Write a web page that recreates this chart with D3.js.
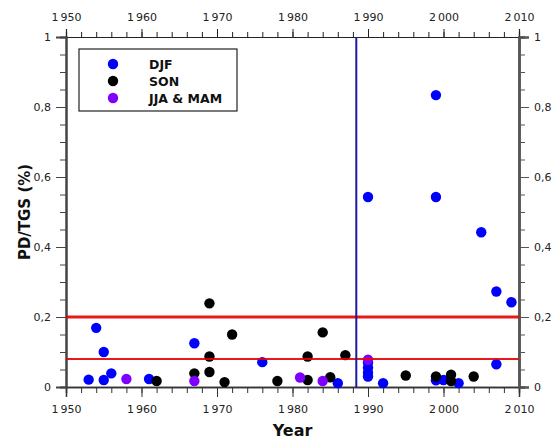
<!DOCTYPE html>
<html>
<head>
<meta charset="utf-8">
<script src="https://cdn.jsdelivr.net/npm/d3@7"></script>
<style>
  body { margin: 0; background: #fff; }
  svg text { font-family: "DejaVu Sans", Verdana, sans-serif; }
</style>
</head>
<body>
<svg id="svg1" width="553" height="441"></svg>
<script>
// data: [year, PD/TGS]
var djf = [
  [1953, 0.021], [1954, 0.169], [1955, 0.100], [1955, 0.020], [1956, 0.039],
  [1961, 0.023], [1967, 0.125], [1976, 0.071], [1986, 0.011],
  [1990, 0.543], [1990, 0.070], [1990, 0.055], [1990, 0.041], [1990, 0.030],
  [1992, 0.011], [1999, 0.834], [1999, 0.543], [1999, 0.019], [2000, 0.020],
  [2002, 0.011], [2005, 0.442], [2007, 0.273], [2007, 0.065], [2009, 0.242]
];
var son = [
  [1962, 0.017], [1967, 0.039], [1969, 0.239], [1969, 0.087], [1969, 0.043],
  [1971, 0.014], [1972, 0.150], [1978, 0.017], [1982, 0.087], [1982, 0.020],
  [1984, 0.156], [1985, 0.028], [1987, 0.091], [1995, 0.033], [1999, 0.030],
  [2001, 0.035], [2001, 0.017], [2004, 0.030]
];
var jjaMam = [
  [1958, 0.023], [1967, 0.017], [1981, 0.027], [1984, 0.017], [1990, 0.078]
];
var legendLabels = ["DJF", "SON", "JJA & MAM"];
var seriesColors = ["#0000ff", "#000000", "#7f00ff"];
var thresholds = [0.2, 0.08];
var breakYear = 1988.45;
var xTicks = [1950, 1960, 1970, 1980, 1990, 2000, 2010];
var yTicks = [0, 0.2, 0.4, 0.6, 0.8, 1];

var marginLeft = 66, marginTop = 37, plotW = 453, plotH = 350;

var svg = d3.select("#svg1")
  .append("g")
  .attr("transform", "translate(" + marginLeft + "," + marginTop + ")");

var scaleX = d3.scaleLinear().domain([1950, 2010]).range([0, plotW]);
var scaleY = d3.scaleLinear().domain([0, 1]).range([plotH, 0]);

var loc = d3.formatLocale({ decimal: ",", thousands: "\u2009", grouping: [3], currency: ["", ""] });
var fmtYear = loc.format(",d");
var fmtVal = function(d) { return d === 0 || d === 1 ? String(d) : loc.format(".1f")(d); };

var minorX = d3.range(1950, 2011, 2);
var minorY = d3.range(0, 1.0001, 0.05);

function styleAxis(g, col, w) {
  g.select(".domain").attr("stroke", col).attr("stroke-width", w);
  g.selectAll(".tick line").attr("stroke", col);
  g.selectAll(".tick text").attr("fill", "#222").style("font-size", "11px");
}

// minor ticks
svg.append("g").call(d3.axisBottom(scaleX).tickValues(minorX).tickSize(6).tickFormat(""))
  .attr("transform", "translate(0," + plotH + ")").call(styleAxis, "#333", 1.5);
svg.append("g").call(d3.axisTop(scaleX).tickValues(minorX).tickSize(5).tickFormat(""))
  .call(styleAxis, "#222", 1.2);
svg.append("g").call(d3.axisLeft(scaleY).tickValues(minorY).tickSize(6).tickFormat(""))
  .call(styleAxis, "#444", 2);
svg.append("g").call(d3.axisRight(scaleY).tickValues(minorY).tickSize(6).tickFormat(""))
  .attr("transform", "translate(" + plotW + ",0)").call(styleAxis, "#555", 2.5);

// major ticks + labels
svg.append("g").attr("transform", "translate(0," + plotH + ")")
  .call(d3.axisBottom(scaleX).tickValues(xTicks).tickSize(10).tickPadding(8).tickFormat(fmtYear))
  .call(styleAxis, "#333", 1.5);
svg.append("g")
  .call(d3.axisTop(scaleX).tickValues(xTicks).tickSize(8).tickPadding(8).tickFormat(fmtYear))
  .call(styleAxis, "#222", 1.2);
svg.append("g")
  .call(d3.axisLeft(scaleY).tickValues(yTicks).tickSize(10).tickPadding(5).tickFormat(fmtVal))
  .call(styleAxis, "#444", 2);
svg.append("g").attr("transform", "translate(" + plotW + ",0)")
  .call(d3.axisRight(scaleY).tickValues(yTicks).tickSize(10).tickPadding(5).tickFormat(fmtVal))
  .call(styleAxis, "#555", 2.5);

// points
[djf, son, jjaMam].forEach(function(series, i) {
  svg.selectAll(".pt" + i)
    .data(series)
    .enter()
    .append("circle")
      .attr("class", "pt" + i)
      .attr("cx", function(d) { return scaleX(d[0]); })
      .attr("cy", function(d) { return scaleY(d[1]); })
      .attr("r", 5.2)
      .attr("fill", seriesColors[i]);
});

// reference lines
svg.selectAll(".thr")
  .data(thresholds)
  .enter()
  .append("line")
    .attr("class", "thr")
    .attr("x1", 0).attr("x2", plotW)
    .attr("y1", function(d) { return scaleY(d); })
    .attr("y2", function(d) { return scaleY(d); })
    .attr("stroke", "#e60000")
    .attr("stroke-opacity", 0.9)
    .attr("stroke-width", function(d, i) { return i === 0 ? 3 : 2; });

svg.append("line")
  .attr("x1", scaleX(breakYear)).attr("x2", scaleX(breakYear))
  .attr("y1", scaleY(1)).attr("y2", scaleY(0))
  .attr("stroke", "#1a1a9e")
  .attr("stroke-width", 2);

// legend
var legend = svg.append("g").attr("transform", "translate(13,12)");
legend.append("rect")
  .attr("width", 158).attr("height", 62)
  .attr("fill", "#fff").attr("stroke", "#222").attr("stroke-width", 1.2);
legendLabels.forEach(function(lab, i) {
  var row = legend.append("g").attr("transform", "translate(0," + (15 + i * 17) + ")");
  row.append("circle").attr("cx", 34).attr("cy", 0).attr("r", 5.2).attr("fill", seriesColors[i]);
  row.append("text").attr("x", 70).attr("y", 4.5)
    .style("font-size", "12.5px").style("font-weight", "bold").attr("fill", "#111")
    .text(lab);
});

// axis titles
svg.append("text")
  .attr("x", plotW / 2).attr("y", plotH + 49)
  .attr("text-anchor", "middle")
  .style("font-size", "16px").style("font-weight", "bold").attr("fill", "#111")
  .text("Year");
svg.append("text")
  .attr("transform", "translate(" + (-36) + "," + (plotH / 2) + ") rotate(-90)")
  .attr("text-anchor", "middle")
  .style("font-size", "15px").style("font-weight", "bold").attr("fill", "#111")
  .text("PD/TGS (%)");
</script>
</body>
</html>
